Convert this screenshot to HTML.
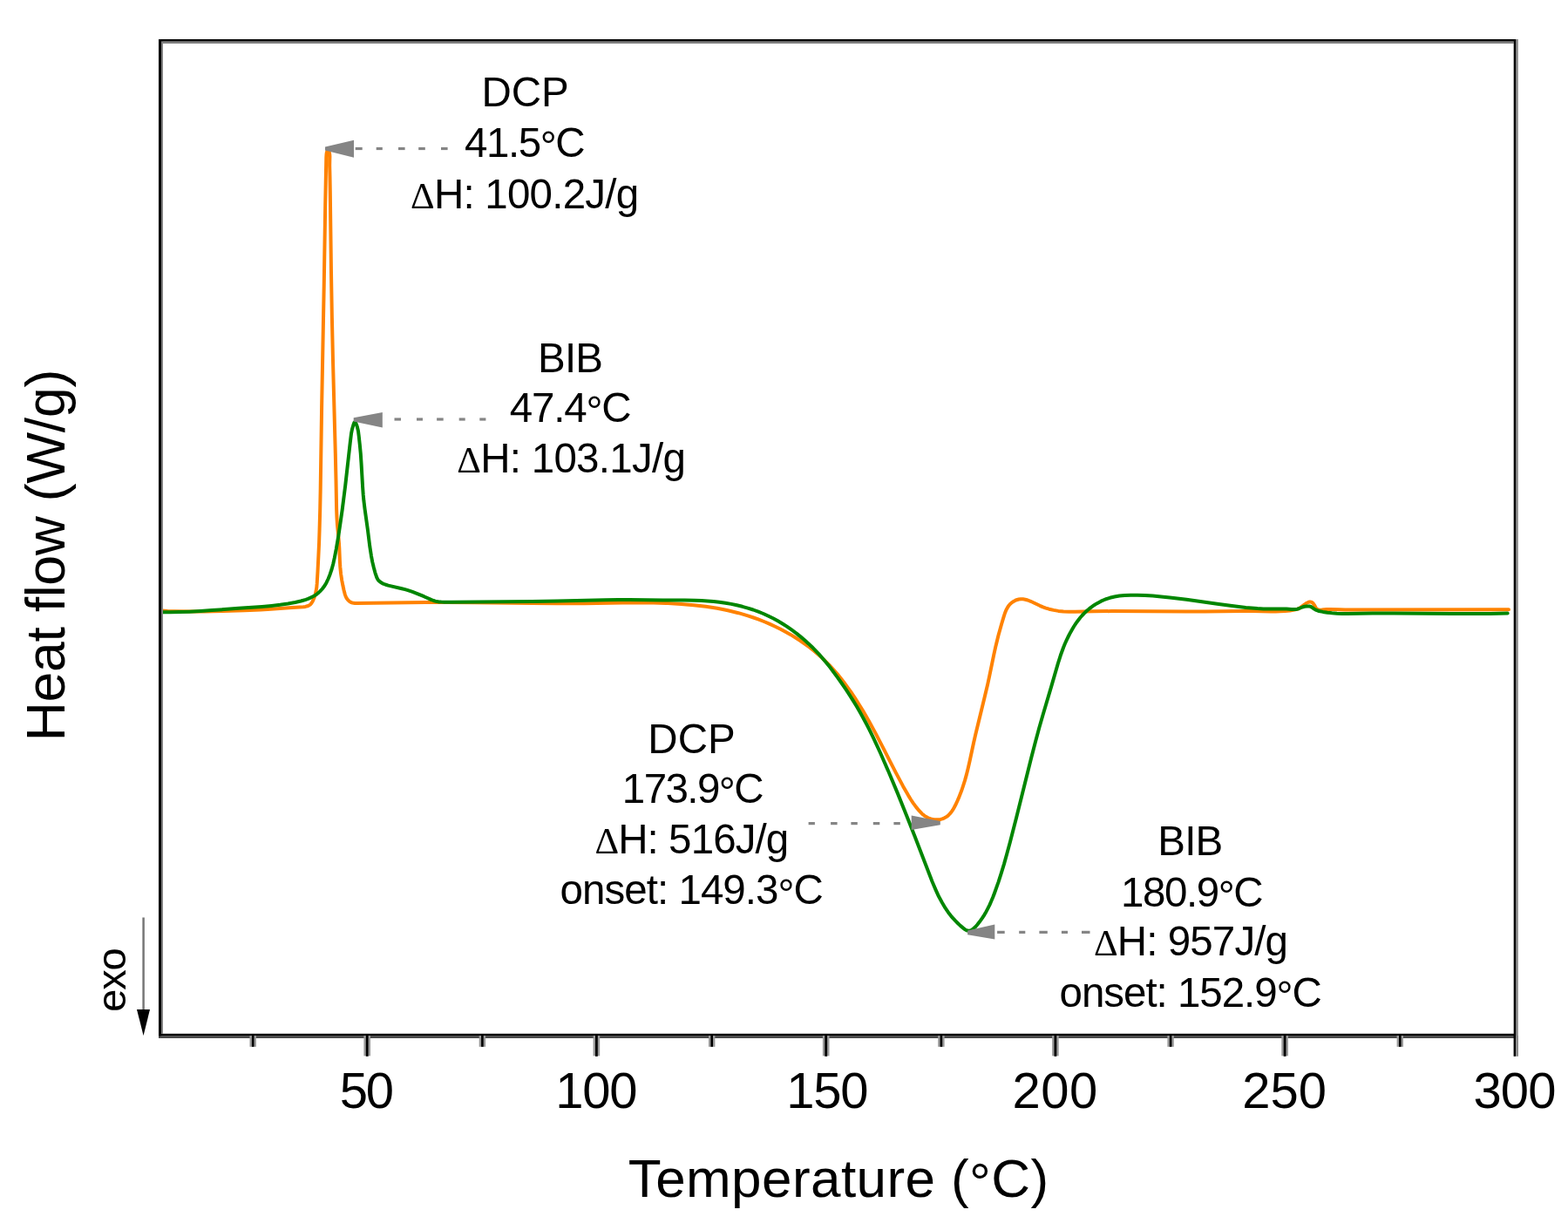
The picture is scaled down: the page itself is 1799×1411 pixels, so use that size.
<!DOCTYPE html>
<html><head><meta charset="utf-8"><title>DSC</title>
<style>
html,body{margin:0;padding:0;background:#fff;overflow:hidden}
svg{display:block}
text{font-family:"Liberation Sans",Arial,sans-serif;fill:#000}
</style></head><body>
<svg width="1799" height="1411" viewBox="0 0 1799 1411">
<rect width="1799" height="1411" fill="#fff"/>
<!-- curves -->
<g id="curves" fill="none" stroke-width="4" stroke-linejoin="round" stroke-linecap="round">
<path id="orange" stroke="#ff8200" d="M185.1,700.5 L192.2,701.0 L199.8,701.3 L216.1,701.6 L234.2,701.6 L256.1,701.1 L280.6,700.3 L299.1,699.5 L310.9,698.8 L335.0,697.0 L347.9,696.2 L350.4,695.9 L352.6,695.3 L354.3,694.6 L355.9,693.6 L357.2,692.2 L358.3,690.5 L359.5,688.1 L360.6,685.4 L361.7,682.0 L362.6,678.0 L363.3,673.9 L363.7,669.2 L364.5,655.6 L365.4,637.6 L366.1,622.4 L366.6,606.9 L367.2,585.3 L367.7,560.3 L369.1,467.4 L371.8,323.9 L373.2,236.4 L374.3,180.3 L374.5,177.3 L374.8,175.1 L375.6,172.6 L376.0,172.0 L376.3,171.7 L376.7,171.9 L377.0,172.5 L377.8,174.6 L378.2,176.6 L378.4,179.2 L378.2,190.0 L378.5,202.7 L378.8,219.9 L380.0,312.5 L380.9,364.9 L382.0,413.7 L384.8,520.2 L385.5,550.9 L386.1,583.1 L386.5,594.1 L387.0,602.1 L388.4,616.6 L388.9,622.3 L389.3,628.6 L389.9,643.3 L390.3,650.2 L391.1,658.2 L392.3,666.1 L393.4,671.8 L394.6,677.2 L395.7,681.6 L396.7,684.4 L397.8,686.6 L398.6,687.6 L399.4,688.6 L401.1,690.1 L402.2,690.7 L403.1,691.1 L404.3,691.5 L405.7,691.7 L407.2,691.9 L409.3,692.0 L488.0,691.1 L512.2,691.0 L544.3,691.2 L610.8,692.0 L639.5,692.3 L670.4,692.2 L714.4,691.6 L731.6,691.5 L749.9,691.6 L766.4,692.1 L781.6,692.9 L796.0,694.2 L802.9,694.9 L809.8,695.8 L816.4,696.8 L822.8,697.8 L829.1,699.0 L835.1,700.3 L841.2,701.7 L847.2,703.2 L853.1,704.9 L858.8,706.6 L864.5,708.5 L869.9,710.4 L876.5,713.0 L882.7,715.6 L888.9,718.5 L895.1,721.5 L901.1,724.7 L906.9,727.9 L912.7,731.5 L918.2,735.0 L923.6,738.8 L928.6,742.5 L933.7,746.5 L938.4,750.5 L943.0,754.6 L947.6,759.1 L952.1,763.6 L956.6,768.5 L960.8,773.3 L965.0,778.5 L969.2,784.0 L973.3,789.6 L977.5,795.5 L981.5,801.6 L985.7,808.2 L989.9,815.1 L997.1,827.6 L1004.8,841.6 L1011.8,855.1 L1027.7,886.1 L1036.1,901.9 L1039.3,907.6 L1042.2,912.6 L1044.9,917.0 L1047.6,921.1 L1051.1,925.9 L1054.7,930.2 L1057.8,933.4 L1059.3,934.7 L1060.8,935.8 L1062.3,936.8 L1064.0,937.7 L1065.7,938.5 L1067.3,939.1 L1069.3,939.6 L1071.1,940.0 L1072.9,940.2 L1074.8,940.3 L1077.1,940.2 L1079.2,939.9 L1081.1,939.4 L1083.1,938.6 L1085.0,937.6 L1086.8,936.4 L1088.4,935.0 L1090.1,933.2 L1091.6,931.3 L1093.1,929.2 L1094.5,926.8 L1096.1,923.8 L1097.8,920.2 L1099.7,915.9 L1103.0,907.6 L1105.0,901.6 L1107.0,895.4 L1108.8,888.9 L1110.6,881.7 L1112.6,873.0 L1117.1,852.0 L1119.5,841.5 L1129.6,800.0 L1133.0,785.8 L1135.4,774.6 L1140.3,750.9 L1142.5,740.9 L1145.5,728.7 L1149.0,716.2 L1151.5,707.9 L1152.9,703.5 L1154.4,699.8 L1156.1,696.7 L1157.0,695.3 L1158.0,694.0 L1159.2,692.7 L1160.4,691.6 L1161.8,690.6 L1163.2,689.7 L1164.7,688.9 L1166.3,688.2 L1168.8,687.5 L1171.1,687.2 L1173.7,687.3 L1176.3,687.7 L1179.2,688.5 L1182.5,689.8 L1185.6,691.2 L1193.0,694.8 L1196.6,696.4 L1200.0,697.6 L1203.6,698.7 L1208.7,699.9 L1214.3,700.9 L1220.2,701.4 L1226.5,701.7 L1233.2,701.7 L1255.2,701.2 L1275.4,701.1 L1361.0,701.5 L1382.3,701.4 L1424.1,701.0 L1437.1,701.0 L1457.9,701.4 L1463.7,701.4 L1468.7,701.2 L1474.4,700.9 L1479.9,700.4 L1485.1,699.6 L1488.2,698.9 L1490.0,698.2 L1491.7,697.2 L1497.2,693.1 L1499.3,691.7 L1501.3,690.8 L1502.2,690.5 L1503.1,690.4 L1504.0,690.5 L1504.8,690.8 L1505.6,691.3 L1506.6,692.1 L1507.8,693.8 L1509.7,697.3 L1510.8,698.5 L1511.5,699.0 L1512.4,699.4 L1513.3,699.6 L1514.5,699.7 L1516.6,699.6 L1522.1,699.1 L1526.0,699.0 L1536.9,699.3 L1543.3,699.4 L1731.0,699.3"/>
<path id="green" stroke="#008600" d="M185.1,702.3 L195.2,702.3 L205.9,702.1 L217.4,701.7 L230.1,701.0 L243.4,700.1 L273.8,697.8 L300.6,695.9 L311.6,694.9 L321.5,693.8 L330.4,692.5 L338.7,691.0 L345.2,689.5 L350.9,687.8 L353.5,686.9 L355.8,685.9 L358.1,684.8 L360.1,683.8 L362.0,682.6 L363.8,681.3 L365.5,679.9 L367.1,678.4 L369.8,675.5 L372.4,672.0 L374.5,668.4 L376.6,664.0 L378.7,658.7 L380.6,653.0 L382.3,646.7 L383.8,639.9 L385.7,630.1 L388.3,614.8 L390.5,600.0 L392.7,584.6 L396.2,557.1 L401.7,508.2 L403.0,497.4 L404.0,492.4 L405.4,487.5 L406.0,485.8 L406.4,484.9 L406.9,484.3 L407.1,484.2 L407.4,484.2 L407.6,484.3 L408.0,484.8 L408.5,485.9 L409.2,487.6 L410.0,490.2 L411.0,494.5 L411.7,499.9 L412.8,510.1 L413.8,520.6 L414.5,531.0 L416.1,558.7 L416.7,567.2 L417.4,574.6 L418.6,584.3 L421.9,607.8 L424.3,626.9 L425.9,637.3 L427.2,644.4 L428.8,651.0 L430.5,657.3 L432.3,662.5 L433.4,664.7 L434.0,665.5 L434.8,666.4 L436.5,667.8 L438.9,669.3 L442.0,670.5 L445.4,671.6 L461.0,675.2 L464.6,676.1 L468.0,677.1 L473.2,678.9 L479.5,681.3 L486.4,684.2 L495.1,688.1 L497.5,689.0 L499.4,689.6 L501.5,690.1 L503.7,690.4 L506.2,690.6 L510.2,690.7 L518.5,690.7 L610.4,690.1 L639.4,689.6 L694.5,688.3 L709.1,688.1 L722.1,688.1 L760.4,688.5 L785.8,688.5 L797.0,688.7 L804.8,688.9 L811.7,689.4 L818.7,690.0 L825.3,690.7 L832.3,691.7 L838.9,692.9 L845.4,694.3 L851.7,695.8 L858.0,697.6 L864.1,699.5 L870.0,701.7 L875.8,704.0 L881.2,706.5 L886.9,709.3 L892.4,712.3 L897.8,715.5 L903.1,718.9 L908.5,722.7 L913.8,726.6 L919.1,730.9 L923.4,734.5 L927.7,738.4 L931.7,742.2 L935.7,746.3 L939.6,750.4 L943.4,754.7 L947.2,759.2 L951.1,763.9 L955.5,769.7 L960.2,776.1 L965.5,783.5 L970.4,790.7 L974.8,797.4 L978.9,803.8 L982.7,810.0 L986.3,816.3 L990.2,823.2 L994.1,830.5 L998.0,838.1 L1001.9,846.2 L1006.0,854.8 L1010.3,864.3 L1019.9,886.3 L1029.5,909.1 L1039.7,934.4 L1049.5,959.3 L1069.6,1011.5 L1073.5,1020.6 L1077.0,1028.3 L1080.8,1035.3 L1084.6,1041.7 L1086.8,1044.9 L1088.8,1047.8 L1091.0,1050.6 L1093.2,1053.1 L1096.0,1056.2 L1098.8,1059.0 L1101.8,1061.9 L1104.8,1064.4 L1107.0,1066.1 L1108.6,1067.1 L1110.0,1067.6 L1111.3,1067.8 L1112.1,1067.8 L1113.1,1067.5 L1114.8,1066.8 L1116.7,1065.5 L1118.8,1063.6 L1121.1,1061.0 L1124.0,1057.3 L1126.8,1053.4 L1129.3,1049.6 L1131.4,1045.9 L1133.4,1042.1 L1135.4,1038.1 L1137.3,1033.8 L1139.2,1029.3 L1141.1,1024.2 L1145.5,1011.8 L1148.7,1001.9 L1152.0,991.1 L1155.3,979.2 L1158.9,965.9 L1166.1,937.9 L1183.1,869.8 L1187.9,851.2 L1192.4,834.6 L1196.8,819.2 L1206.4,786.9 L1213.7,761.6 L1216.8,751.8 L1220.0,743.0 L1221.8,738.5 L1223.8,734.1 L1225.8,730.0 L1227.9,725.9 L1230.0,722.2 L1232.2,718.5 L1234.4,715.2 L1236.7,712.0 L1239.2,708.8 L1241.6,706.0 L1244.1,703.4 L1246.8,700.8 L1249.6,698.4 L1252.3,696.3 L1255.3,694.2 L1258.2,692.4 L1263.2,689.7 L1268.2,687.5 L1273.4,685.8 L1278.7,684.5 L1284.4,683.5 L1290.4,682.9 L1297.3,682.7 L1305.0,682.7 L1313.6,683.0 L1322.7,683.6 L1332.2,684.4 L1342.1,685.4 L1361.3,687.8 L1398.3,693.1 L1413.5,695.1 L1429.3,696.9 L1442.7,698.0 L1449.5,698.4 L1456.1,698.6 L1473.1,698.5 L1476.0,698.6 L1481.9,699.1 L1484.8,699.1 L1486.7,699.0 L1488.7,698.6 L1490.4,698.0 L1494.2,696.5 L1496.7,695.8 L1499.3,695.4 L1501.5,695.4 L1502.9,695.6 L1504.1,696.0 L1505.2,696.7 L1507.8,698.6 L1509.1,699.4 L1510.9,700.2 L1513.3,701.0 L1517.9,701.9 L1523.0,702.7 L1528.2,703.3 L1533.9,703.7 L1539.6,703.9 L1546.2,703.9 L1574.9,703.5 L1599.0,703.4 L1665.9,704.0 L1688.4,704.1 L1709.9,703.9 L1729.7,703.5"/>
</g>
<!-- arrows -->
<g id="arrows" fill="#858585">
<polygon points="373,168.5 406,160.7 406,180.7 373,172.5"/><rect x="407.7" y="168.9" width="8.0" height="3.2"/><rect x="431.7" y="168.9" width="7.1" height="3.2"/><rect x="457" y="168.9" width="7.6" height="3.2"/><rect x="480.2" y="168.9" width="7.6" height="3.2"/><rect x="506" y="168.9" width="7.6" height="3.2"/>
<polygon points="405.7,479.2 438.8,473 438.8,490.5 405.7,483.4"/><rect x="452.5" y="479.4" width="7.5" height="3.2"/><rect x="478" y="479.4" width="7.0" height="3.2"/><rect x="501.1" y="479.4" width="7.6" height="3.2"/><rect x="526.7" y="479.4" width="7.0" height="3.2"/><rect x="550.3" y="479.4" width="7.1" height="3.2"/>
<polygon points="1045.7,935.4 1078.8,942 1078.8,946.2 1045.7,951.9"/><rect x="927.6" y="943.0" width="7.3" height="3.2"/><rect x="953.1" y="943.0" width="7.5" height="3.2"/><rect x="976.4" y="943.0" width="7.4" height="3.2"/><rect x="1001.8" y="943.0" width="7.5" height="3.2"/><rect x="1025.4" y="943.0" width="7.4" height="3.2"/>
<polygon points="1110.1,1067.5 1141.3,1060.4 1141.3,1077.4 1110.1,1072.2"/><rect x="1144.1" y="1067.8" width="8.6" height="3.2"/><rect x="1169.2" y="1067.8" width="7.1" height="3.2"/><rect x="1192.4" y="1067.8" width="9.4" height="3.2"/><rect x="1217.9" y="1067.8" width="7.1" height="3.2"/><rect x="1241" y="1067.8" width="9.5" height="3.2"/>
</g>
<!-- frame -->
<g id="frame">
<rect x="185" y="47.5" width="1551.7" height="2.5" fill="#808080"/>
<rect x="185" y="47.5" width="2" height="1138.2" fill="#808080"/>
<rect x="1739" y="45" width="2.8" height="1146" fill="#8a8a8a"/>
<rect x="182" y="1188.5" width="1557" height="2.5" fill="#4a4a4a"/>
<rect x="182" y="45" width="1557" height="2.5" fill="#000"/>
<rect x="182" y="45" width="3" height="1143.5" fill="#000"/>
<rect x="1736.7" y="45" width="2.4" height="1143.5" fill="#000"/>
<rect x="182" y="1185.8" width="1557" height="2.7" fill="#000"/>
</g>
<!-- ticks -->
<g id="ticks"><rect x="286.5" y="1188" width="7.4" height="12.8" fill="#9a9a9a"/><rect x="288.9" y="1188" width="2.6" height="12.8" fill="#000"/><rect x="417.4" y="1188" width="7.6" height="23.3" fill="#9a9a9a"/><rect x="419.8" y="1188" width="2.8" height="23.8" fill="#000"/><rect x="549.7" y="1188" width="7.4" height="12.8" fill="#9a9a9a"/><rect x="552.1" y="1188" width="2.6" height="12.8" fill="#000"/><rect x="680.6" y="1188" width="7.6" height="23.3" fill="#9a9a9a"/><rect x="683.0" y="1188" width="2.8" height="23.8" fill="#000"/><rect x="813.0" y="1188" width="7.4" height="12.8" fill="#9a9a9a"/><rect x="815.4" y="1188" width="2.6" height="12.8" fill="#000"/><rect x="943.9" y="1188" width="7.6" height="23.3" fill="#9a9a9a"/><rect x="946.3" y="1188" width="2.8" height="23.8" fill="#000"/><rect x="1076.2" y="1188" width="7.4" height="12.8" fill="#9a9a9a"/><rect x="1078.6" y="1188" width="2.6" height="12.8" fill="#000"/><rect x="1207.1" y="1188" width="7.6" height="23.3" fill="#9a9a9a"/><rect x="1209.5" y="1188" width="2.8" height="23.8" fill="#000"/><rect x="1339.4" y="1188" width="7.4" height="12.8" fill="#9a9a9a"/><rect x="1341.8" y="1188" width="2.6" height="12.8" fill="#000"/><rect x="1470.3" y="1188" width="7.6" height="23.3" fill="#9a9a9a"/><rect x="1472.7" y="1188" width="2.8" height="23.8" fill="#000"/><rect x="1602.6" y="1188" width="7.4" height="12.8" fill="#9a9a9a"/><rect x="1605.0" y="1188" width="2.6" height="12.8" fill="#000"/><rect x="1736.6" y="1188" width="2.5" height="23.8" fill="#000"/><rect x="1739.1" y="1188" width="2.9" height="23.8" fill="#8a8a8a"/></g>
<!-- exo arrow -->
<line x1="164.6" y1="1052.5" x2="164.6" y2="1160" stroke="#777" stroke-width="2.5"/>
<polygon points="157,1158 172,1158 164.6,1188" fill="#000"/>
<text id="t50" x="420.90" y="1271.00" style="font-size:58px;text-anchor:middle" textLength="62.32" lengthAdjust="spacing">50</text>
<text id="t100" x="684.40" y="1271.00" style="font-size:58px;text-anchor:middle" textLength="94.18" lengthAdjust="spacing">100</text>
<text id="t150" x="949.40" y="1271.00" style="font-size:58px;text-anchor:middle" textLength="94.18" lengthAdjust="spacing">150</text>
<text id="t200" x="1210.30" y="1271.00" style="font-size:58px;text-anchor:middle" textLength="97.78" lengthAdjust="spacing">200</text>
<text id="t250" x="1473.70" y="1271.00" style="font-size:58px;text-anchor:middle" textLength="96.78" lengthAdjust="spacing">250</text>
<text id="t300" x="1737.95" y="1271.00" style="font-size:58px;text-anchor:middle" textLength="95.08" lengthAdjust="spacing">300</text>
<text id="xlab" x="961.95" y="1372.80" style="font-size:62px;text-anchor:middle" textLength="482.46" lengthAdjust="spacing">Temperature (<tspan dy="5.2">°</tspan><tspan dy="-5.2">C)</tspan></text>
<text id="ylab" transform="translate(74.00,637.00) rotate(-90)" style="font-size:62.5px;text-anchor:middle" textLength="426.44" lengthAdjust="spacing">Heat flow (W/g)</text>
<text id="exo" transform="translate(143.70,1124.10) rotate(-90)" style="font-size:47px;text-anchor:middle" textLength="73.38" lengthAdjust="spacing">exo</text>
<text id="a1" x="602.65" y="122.20" style="font-size:47.5px;text-anchor:middle" textLength="100.20" lengthAdjust="spacing">DCP</text>
<text id="a2" x="602.30" y="180.00" style="font-size:47.5px;text-anchor:middle" textLength="138.57" lengthAdjust="spacing">41.5<tspan dy="4.4">°</tspan><tspan dy="-4.4">C</tspan></text>
<text id="a3" x="602.10" y="238.90" style="font-size:47.5px;text-anchor:middle" textLength="262.19" lengthAdjust="spacing"><tspan style="font-family:'Liberation Serif',serif;font-size:43px">Δ</tspan>H: 100.2J/g</text>
<text id="b1" x="654.50" y="426.70" style="font-size:47.5px;text-anchor:middle" textLength="74.76" lengthAdjust="spacing">BIB</text>
<text id="b2" x="654.65" y="483.70" style="font-size:47.5px;text-anchor:middle" textLength="139.87" lengthAdjust="spacing">47.4<tspan dy="4.4">°</tspan><tspan dy="-4.4">C</tspan></text>
<text id="b3" x="655.55" y="541.80" style="font-size:47.5px;text-anchor:middle" textLength="262.69" lengthAdjust="spacing"><tspan style="font-family:'Liberation Serif',serif;font-size:43px">Δ</tspan>H: 103.1J/g</text>
<text id="c1" x="793.50" y="863.50" style="font-size:47.5px;text-anchor:middle" textLength="100.50" lengthAdjust="spacing">DCP</text>
<text id="c2" x="795.20" y="921.00" style="font-size:47.5px;text-anchor:middle" textLength="162.79" lengthAdjust="spacing">173.9<tspan dy="4.4">°</tspan><tspan dy="-4.4">C</tspan></text>
<text id="c3" x="793.80" y="978.50" style="font-size:47.5px;text-anchor:middle" textLength="222.78" lengthAdjust="spacing"><tspan style="font-family:'Liberation Serif',serif;font-size:43px">Δ</tspan>H: 516J/g</text>
<text id="c4" x="793.70" y="1037.30" style="font-size:47.5px;text-anchor:middle" textLength="302.38" lengthAdjust="spacing">onset: 149.3<tspan dy="4.4">°</tspan><tspan dy="-4.4">C</tspan></text>
<text id="d1" x="1365.75" y="981.30" style="font-size:47.5px;text-anchor:middle" textLength="75.06" lengthAdjust="spacing">BIB</text>
<text id="d2" x="1367.75" y="1039.50" style="font-size:47.5px;text-anchor:middle" textLength="163.69" lengthAdjust="spacing">180.9<tspan dy="4.4">°</tspan><tspan dy="-4.4">C</tspan></text>
<text id="d3" x="1366.50" y="1096.30" style="font-size:47.5px;text-anchor:middle" textLength="222.98" lengthAdjust="spacing"><tspan style="font-family:'Liberation Serif',serif;font-size:43px">Δ</tspan>H: 957J/g</text>
<text id="d4" x="1366.25" y="1155.00" style="font-size:47.5px;text-anchor:middle" textLength="301.28" lengthAdjust="spacing">onset: 152.9<tspan dy="4.4">°</tspan><tspan dy="-4.4">C</tspan></text>
</svg>
</body></html>
